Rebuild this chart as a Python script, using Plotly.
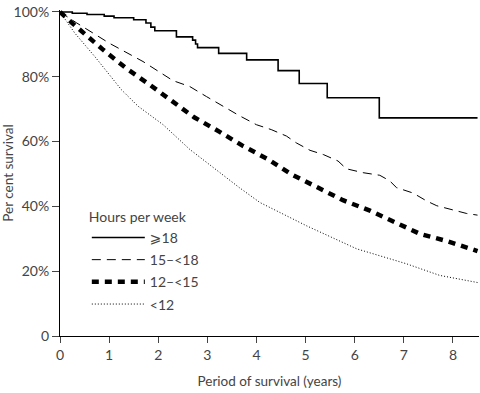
import plotly.graph_objects as go

# ---- data ----
t_18 = [0, 0.25, 0.55, 0.9, 1.1, 1.5, 1.75, 1.85, 1.93, 2.37, 2.70, 2.76, 2.80, 3.23, 3.80, 4.44, 4.87, 5.44, 6.50, 8.5]
s_18 = [100, 99.6, 99.2, 98.7, 98.2, 97.6, 96.6, 95.3, 94.2, 92.3, 91.3, 90.1, 89.0, 87.2, 85.2, 81.9, 77.9, 73.5, 67.3, 67.3]

t_15 = [0, 0.33, 1.01, 1.69, 2.3, 2.64, 2.98, 3.3, 3.65, 4.0, 4.3, 4.61, 4.81, 5.09, 5.36, 5.66, 5.83, 6.17, 6.51, 6.71, 6.85, 7.19, 7.46, 7.67, 7.94, 8.28, 8.5]
s_15 = [100, 96.7, 90.3, 84.7, 78.8, 77.0, 73.9, 71.0, 68.0, 65.2, 63.7, 61.7, 59.6, 57.3, 56.0, 54.0, 51.6, 50.4, 49.6, 47.9, 45.8, 44.1, 41.7, 40.2, 39.2, 37.8, 37.3]

t_12 = [0, 0.26, 0.88, 1.35, 1.83, 2.27, 2.73, 3.25, 3.73, 4.24, 4.71, 5.25, 5.76, 6.31, 6.82, 7.33, 7.9, 8.41, 8.5]
s_12 = [100, 96.4, 88.3, 82.6, 77.5, 72.4, 67.5, 63.0, 58.6, 54.5, 49.9, 45.8, 41.9, 38.7, 35.1, 31.5, 29.2, 26.6, 26.2]

t_lt12 = [0, 0.3, 0.71, 1.25, 1.59, 2.1, 2.64, 3.65, 4.07, 5.02, 6.04, 7.05, 7.73, 8.41, 8.5]
s_lt12 = [100, 93.5, 86.2, 76.0, 70.9, 65.2, 57.6, 45.8, 41.2, 34.0, 26.9, 22.3, 18.7, 16.9, 16.5]

labels = ["⩾18", "15–<18", "12–<15", "<12"]

x_ticks = [0, 1, 2, 3, 4, 5, 6, 7, 8]
y_ticks = [0, 20, 40, 60, 80, 100]
y_ticktext = ["0", "20%", "40%", "60%", "80%", "100%"]

FONT = "Lato, DejaVu Sans, sans-serif"
GREY = "#444444"

fig = go.Figure()
fig.add_trace(go.Scatter(x=t_18, y=s_18, mode="lines", line_shape="hv", name=labels[0],
                         legendgroup="a", line=dict(color="black", width=1.6)))
fig.add_trace(go.Scatter(x=t_15, y=s_15, mode="lines", name=labels[1], legendgroup="b",
                         line=dict(color="black", width=1, dash="9px,6px")))
fig.add_trace(go.Scatter(x=t_12, y=s_12, mode="lines", name=labels[2], legendgroup="c",
                         line=dict(color="black", width=4.5, dash="7px,6px")))
fig.add_trace(go.Scatter(x=t_lt12, y=s_lt12, mode="lines", name=labels[3], legendgroup="d",
                         line=dict(color="black", width=1, dash="1px,2px")))

fig.update_layout(
    width=480, height=393,
    margin=dict(l=60, r=1, t=10, b=57),
    paper_bgcolor="white", plot_bgcolor="white",
    font=dict(family=FONT, size=13.5, color=GREY),
    showlegend=True,
    legend=dict(
        x=0.064, y=0.406, xanchor="left", yanchor="top",
        title=dict(text="Hours per week", font=dict(size=14, color=GREY)),
        font=dict(size=14, color=GREY),
        traceorder="grouped", tracegroupgap=1, itemwidth=53,
        bgcolor="rgba(0,0,0,0)",
    ),
    xaxis=dict(
        range=[0, 8.53], tickvals=x_ticks, showgrid=False, zeroline=False,
        showline=True, linecolor="black", linewidth=1, automargin=False,
        ticks="outside", ticklen=6, tickcolor=GREY,
        tickfont=dict(size=14, color=GREY),
        title=dict(text="Period of survival (years)", font=dict(size=13.5, color=GREY), standoff=14),
    ),
    yaxis=dict(
        range=[0, 100.6], tickvals=y_ticks, ticktext=y_ticktext, showgrid=False, zeroline=False,
        showline=True, linecolor="black", linewidth=1, automargin=False,
        ticks="outside", ticklen=7, tickcolor=GREY,
        tickfont=dict(size=14, color=GREY),
        title=dict(text="Per cent survival", font=dict(size=13.5, color=GREY), standoff=6),
    ),
)

fig.write_html("out.html", config={"displayModeBar": False},
               post_script="document.body.style.margin='0';")
